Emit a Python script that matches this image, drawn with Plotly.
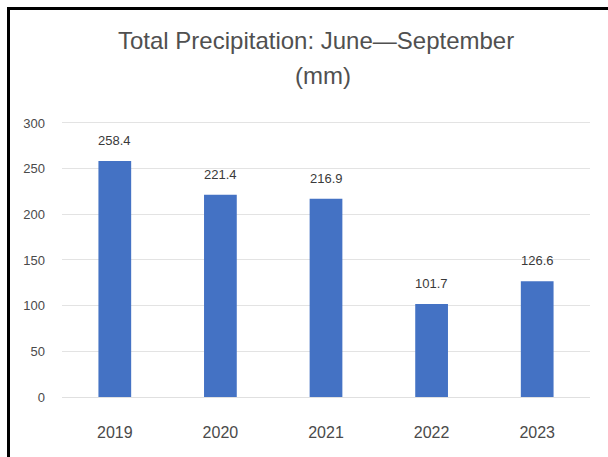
import plotly.graph_objects as go

years = ["2019", "2020", "2021", "2022", "2023"]
precip = [258.4, 221.4, 216.9, 101.7, 126.6]
y_ticks = [0, 50, 100, 150, 200, 250, 300]

W, H = 608, 457
bar_color = "#4472C4"
font_fam = "Liberation Sans, Arial, sans-serif"

fig = go.Figure(go.Bar(
    x=years, y=precip, marker_color=bar_color, marker_line_width=0,
    width=0.31,
))

label_annots = [
    dict(x=i, y=v, xref="x", yref="y", text=f"{v:.1f}", showarrow=False,
         xanchor="center", yanchor="bottom", yshift=11,
         font=dict(size=13, color="#3a3a3a", family=font_fam))
    for i, v in enumerate(precip)
]

fig.update_layout(
    width=W, height=H,
    margin=dict(l=0, r=0, t=0, b=0, autoexpand=False),
    paper_bgcolor="white", plot_bgcolor="white",
    showlegend=False,
    xaxis=dict(type="category", domain=[62 / W, 590 / W], range=[-0.5, 4.5],
               showgrid=False, showline=True,
               linecolor="#e0e0e0", linewidth=1, ticks="", ticklabelstandoff=21,
               tickfont=dict(size=16, color="#4a4a4a", family=font_fam)),
    yaxis=dict(domain=[1 - 397 / H, 1 - 118.4 / H], range=[0, 305],
               tickvals=y_ticks, showgrid=True, gridcolor="#e3e3e3", gridwidth=1,
               zeroline=False, showline=False, ticks="", ticklabelstandoff=16,
               tickfont=dict(size=13, color="#4a4a4a", family=font_fam)),
    annotations=label_annots + [
        dict(text="Total Precipitation: June\u2014September", x=316 / W, y=1 - 41 / H,
             xref="paper", yref="paper", showarrow=False, xanchor="center", yanchor="middle",
             font=dict(size=24, color="#505050", family=font_fam)),
        dict(text="(mm)", x=323 / W, y=1 - 76 / H,
             xref="paper", yref="paper", showarrow=False, xanchor="center", yanchor="middle",
             font=dict(size=24, color="#505050", family=font_fam)),
    ],
    shapes=[
        dict(type="line", xref="paper", yref="paper", x0=8.5 / W, x1=8.5 / W, y0=-0.01, y1=1 - 7 / H,
             line=dict(color="black", width=3)),
        dict(type="line", xref="paper", yref="paper", x0=7 / W, x1=1.01, y0=1 - 8.5 / H, y1=1 - 8.5 / H,
             line=dict(color="black", width=3)),
    ],
)

fig.write_html("out.html")
